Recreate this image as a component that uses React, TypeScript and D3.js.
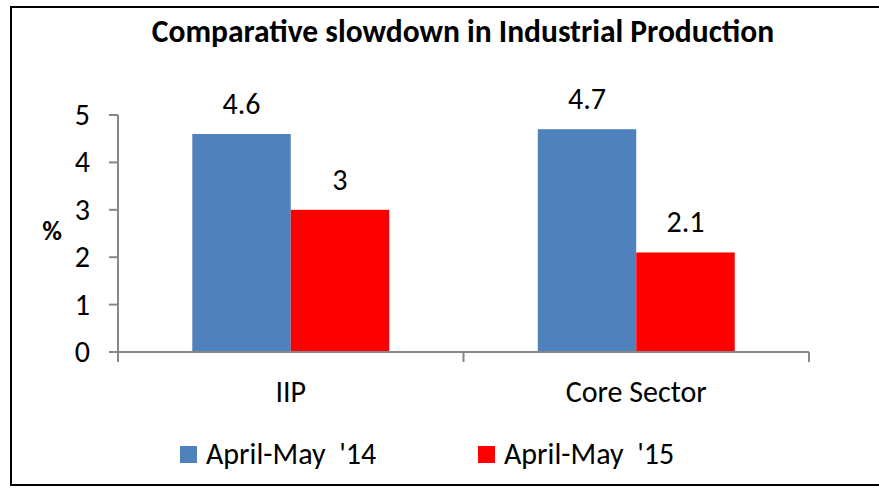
import React from "react";
import * as d3 from "d3";

const categories = ["IIP", "Core Sector"];
const seriesNames = ["April-May  '14", "April-May  '15"];
const series14 = [4.6, 4.7];
const series15 = [3, 2.1];
const yTicks = [0, 1, 2, 3, 4, 5];
const colors = ["#4F81BD", "#FF0000"];
const labelsText = ["4.6", "3", "4.7", "2.1"];

const W = 879;
const H = 488;
const FONT = "Carlito, Calibri, Lato, 'Open Sans', sans-serif";

export default function App() {
  const left = 118;
  const right = 809;
  const top = 115;
  const bottom = 352;

  const x = d3
    .scaleBand<string>()
    .domain(categories)
    .range([left, right])
    .paddingInner(0.43)
    .paddingOuter(0.215);
  const xs = d3
    .scaleBand<string>()
    .domain(seriesNames)
    .range([0, x.bandwidth()]);
  const y = d3.scaleLinear().domain([0, 5]).range([bottom, top]);

  const step = x.step();
  const boundaries = [0, 1, 2].map((i) => left + i * step);
  const data = [series14, series15];

  return (
    <div style={{ position: "fixed", left: 0, top: 0 }}>
      <svg width={W} height={H} style={{ display: "block", fontFamily: FONT }}>
        <rect x={0} y={0} width={W} height={H} fill="#fff" />
        <rect x={11} y={7} width={W + 10} height={478} fill="none" stroke="#000" strokeWidth={2} />
        <text x={463} y={42} textAnchor="middle" fontSize={31.5} fontWeight="bold" fill="#000">
          Comparative slowdown in Industrial Production
        </text>

        {/* bars */}
        {categories.map((c, ci) =>
          seriesNames.map((s, si) => {
            const v = data[si][ci];
            const bx = (x(c) as number) + (xs(s) as number);
            return (
              <g key={c + s}>
                <rect
                  x={bx}
                  y={y(v)}
                  width={xs.bandwidth()}
                  height={y(0) - y(v)}
                  fill={colors[si]}
                />
                <text
                  x={bx + xs.bandwidth() / 2}
                  y={y(v) - 20}
                  textAnchor="middle"
                  fontSize={30}
                  fill="#000"
                >
                  {labelsText[ci * 2 + si]}
                </text>
              </g>
            );
          })
        )}

        {/* y axis */}
        <line x1={left} x2={left} y1={top} y2={bottom} stroke="#868686" strokeWidth={2} />
        {yTicks.map((t) => (
          <g key={t}>
            <line x1={109} x2={left} y1={y(t)} y2={y(t)} stroke="#868686" strokeWidth={2} />
            <text x={90} y={y(t) + 10} textAnchor="end" fontSize={30} fill="#000">
              {t}
            </text>
          </g>
        ))}
        <text x={52} y={240} textAnchor="middle" fontSize={27} fontWeight="bold" fill="#000">
          %
        </text>

        {/* x axis */}
        <line x1={left} x2={right} y1={bottom} y2={bottom} stroke="#868686" strokeWidth={2} />
        {boundaries.map((b, i) => (
          <line key={i} x1={b} x2={b} y1={bottom} y2={bottom + 10} stroke="#868686" strokeWidth={2} />
        ))}
        {categories.map((c) => (
          <text
            key={c}
            x={(x(c) as number) + x.bandwidth() / 2}
            y={402}
            textAnchor="middle"
            fontSize={30}
            fill="#000"
          >
            {c}
          </text>
        ))}

        {/* legend */}
        {seriesNames.map((s, i) => {
          const lx = i === 0 ? 180 : 478;
          return (
            <g key={s}>
              <rect x={lx} y={446} width={17} height={17} fill={colors[i]} />
              <text x={lx + 26} y={464} fontSize={30} fill="#000" style={{ whiteSpace: "pre" }}>
                {s}
              </text>
            </g>
          );
        })}
      </svg>
    </div>
  );
}
